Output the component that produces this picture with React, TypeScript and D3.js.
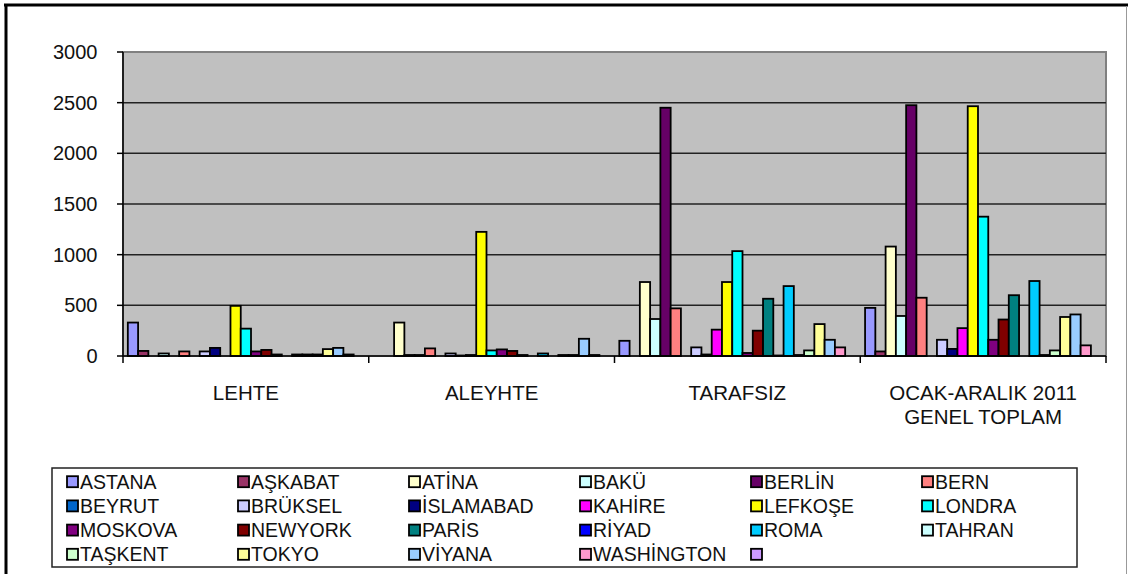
import React from "react";
import * as d3 from "d3";

const categories = ["LEHTE", "ALEYHTE", "TARAFSIZ", "OCAK-ARALIK 2011\nGENEL TOPLAM"];

const seriesNames = [
  "ASTANA", "AŞKABAT", "ATİNA", "BAKÜ", "BERLİN", "BERN",
  "BEYRUT", "BRÜKSEL", "İSLAMABAD", "KAHİRE", "LEFKOŞE", "LONDRA",
  "MOSKOVA", "NEWYORK", "PARİS", "RİYAD", "ROMA", "TAHRAN",
  "TAŞKENT", "TOKYO", "VİYANA", "WASHİNGTON", "",
];

const seriesColors = [
  "#9999FF", "#993366", "#FFFFCC", "#CCFFFF", "#660066", "#FF8080",
  "#0066CC", "#CCCCFF", "#000080", "#FF00FF", "#FFFF00", "#00FFFF",
  "#800080", "#800000", "#008080", "#0000FF", "#00CCFF", "#CCFFFF",
  "#CCFFCC", "#FFFF99", "#99CCFF", "#FF99CC", "#CC99FF",
];

// one value per series, in seriesNames order
const lehte = [330, 50, 0, 25, 0, 45, 0, 45, 80, 0, 495, 270, 45, 60, 15, 0, 15, 15, 15, 68, 80, 15, 0];
const aleyhte = [0, 0, 330, 10, 10, 75, 0, 25, 5, 10, 1225, 55, 65, 50, 10, 0, 25, 0, 10, 10, 170, 10, 0];
const tarafsiz = [150, 0, 730, 365, 2450, 470, 0, 85, 15, 260, 730, 1035, 30, 250, 565, 5, 690, 10, 55, 315, 160, 85, 0];
const toplam = [475, 45, 1080, 395, 2475, 575, 0, 160, 70, 275, 2465, 1375, 160, 360, 600, 0, 740, 10, 55, 385, 410, 105, 0];

const yTicks = [0, 500, 1000, 1500, 2000, 2500, 3000];

const table = categories.map((c, ci) => ({
  category: c,
  values: [lehte, aleyhte, tarafsiz, toplam][ci],
}));

const W = 1128;
const H = 574;
const plot = { left: 123, right: 1106, top: 52, bottom: 356 };
const font = '"Liberation Sans", Arial, sans-serif';

const App: React.FC = () => {
  const x = d3
    .scaleBand<string>()
    .domain(categories)
    .range([plot.left, plot.right]);

  const xs = d3
    .scaleBand<number>()
    .domain(d3.range(seriesNames.length))
    .range([0, x.bandwidth()])
    .paddingOuter(0.47);

  const y = d3.scaleLinear().domain([0, 3000]).range([plot.bottom, plot.top]);

  // legend layout
  const cols = 6;
  const legLeft = 52;
  const legTop = 468;
  const colStep = 171;
  const rowStep = 24.2;

  return (
    <div style={{ position: "absolute", left: 0, top: 0 }}>
      <svg width={W} height={H} style={{ display: "block", background: "#fff" }}>
        {/* chart frame */}
        <line x1={6} y1={4} x2={6} y2={H} stroke="#000" strokeWidth={3} />
        <line x1={4} y1={5} x2={1128} y2={5} stroke="#000" strokeWidth={3} />
        <line x1={1126.5} y1={6} x2={1126.5} y2={H} stroke="#999" strokeWidth={1} />

        {/* plot area */}
        <rect
          x={plot.left}
          y={plot.top}
          width={plot.right - plot.left}
          height={plot.bottom - plot.top}
          fill="#C0C0C0"
          stroke="#808080"
          strokeWidth={2}
        />
        {yTicks
          .filter((t) => t > 0 && t < 3000)
          .map((t) => (
            <line
              key={t}
              x1={plot.left}
              x2={plot.right}
              y1={y(t)}
              y2={y(t)}
              stroke="#222"
              strokeWidth={1.5}
            />
          ))}

        {/* bars */}
        {table.map((row) => (
          <g key={row.category} transform={`translate(${x(row.category)},0)`}>
            {row.values.map((v, i) => (
              <rect
                key={i}
                x={xs(i)}
                y={y(v)}
                width={xs.bandwidth()}
                height={y(0) - y(v)}
                fill={seriesColors[i]}
                stroke="#000"
                strokeWidth={1.8}
              />
            ))}
          </g>
        ))}

        {/* y axis */}
        <line x1={plot.left} x2={plot.left} y1={plot.top} y2={plot.bottom} stroke="#000" strokeWidth={1.5} />
        {yTicks.map((t) => (
          <g key={t}>
            <line x1={plot.left - 6} x2={plot.left} y1={y(t)} y2={y(t)} stroke="#000" strokeWidth={1.5} />
            <text
              x={97.5}
              y={y(t) + 7}
              textAnchor="end"
              fontFamily={font}
              fontSize={20}
              fill="#111"
            >
              {t}
            </text>
          </g>
        ))}

        {/* x axis */}
        <line x1={plot.left} x2={plot.right} y1={plot.bottom} y2={plot.bottom} stroke="#000" strokeWidth={1.5} />
        {categories.map((c) => (
          <line
            key={c}
            x1={x(c)!}
            x2={x(c)!}
            y1={plot.bottom}
            y2={plot.bottom + 7}
            stroke="#000"
            strokeWidth={1.5}
          />
        ))}
        <line x1={plot.right} x2={plot.right} y1={plot.bottom} y2={plot.bottom + 7} stroke="#000" strokeWidth={1.5} />
        {categories.map((c) => (
          <text
            key={c}
            x={x(c)! + x.bandwidth() / 2}
            y={400}
            textAnchor="middle"
            fontFamily={font}
            fontSize={20.5}
            fill="#111"
          >
            {c.split("\n").map((line, li) => (
              <tspan key={li} x={x(c)! + x.bandwidth() / 2} dy={li === 0 ? 0 : 23.5}>
                {line}
              </tspan>
            ))}
          </text>
        ))}

        {/* legend */}
        <rect x={legLeft} y={legTop} width={1025} height={99} fill="#fff" stroke="#222" strokeWidth={1.5} />
        {seriesNames.map((name, i) => {
          const cx = 67 + (i % cols) * colStep;
          const cy = 481.7 + Math.floor(i / cols) * rowStep;
          return (
            <g key={i}>
              <rect
                x={cx}
                y={cy - 5.5}
                width={11}
                height={11}
                fill={seriesColors[i]}
                stroke="#000"
                strokeWidth={1.8}
              />
              <text x={cx + 13} y={cy + 7} fontFamily={font} fontSize={19.5} fill="#111">
                {name}
              </text>
            </g>
          );
        })}
      </svg>
    </div>
  );
};

export default App;
